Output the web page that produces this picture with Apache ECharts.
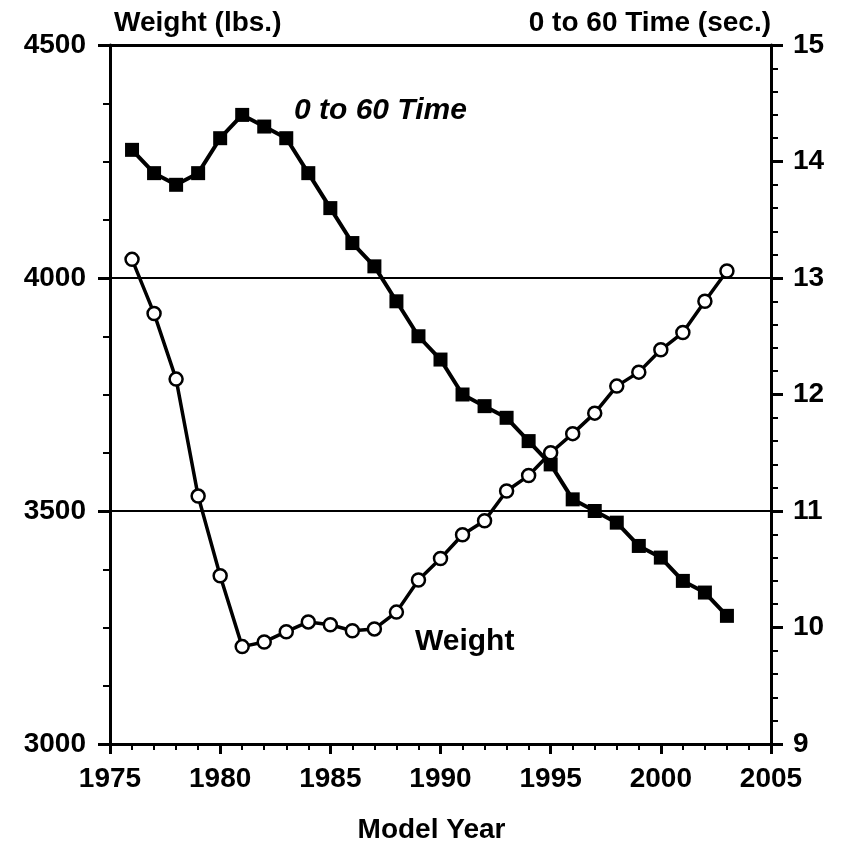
<!DOCTYPE html>
<html><head><meta charset="utf-8">
<script src="https://cdn.jsdelivr.net/npm/echarts@6/dist/echarts.min.js"></script>
<style>html,body{margin:0;padding:0;background:#fff}#c{width:843px;height:843px}</style>
</head><body><div id="c"></div>
<script>
const years = [1976,1977,1978,1979,1980,1981,1982,1983,1984,1985,1986,1987,1988,1989,1990,1991,1992,1993,1994,1995,1996,1997,1998,1999,2000,2001,2002,2003];
const weightLbs = [4040,3924,3783,3532,3361,3209,3219,3241,3262,3256,3243,3247,3283,3352,3398,3449,3479,3543,3576,3625,3666,3710,3768,3798,3846,3883,3950,4015];
const zeroTo60 = [14.1,13.9,13.8,13.9,14.2,14.4,14.3,14.2,13.9,13.6,13.3,13.1,12.8,12.5,12.3,12.0,11.9,11.8,11.6,11.4,11.1,11.0,10.9,10.7,10.6,10.4,10.3,10.1];
const xTicks = {min:1975, max:2005, step:5};
const leftTicks = {min:3000, max:4500, step:500};
const rightTicks = {min:9, max:15, step:1};

const FONT = 'Liberation Sans';
const lbl = {color:'#000', fontFamily:FONT, fontWeight:'bold', fontSize:28};
const nameStyle = {color:'#000', fontFamily:FONT, fontWeight:'bold', fontSize:28};
const plain = v => String(v);
const chart = echarts.init(document.getElementById('c'));
chart.setOption({
  backgroundColor:'#fff',
  animation:false,
  grid:{left:110, right:72, top:45, bottom:99, containLabel:false, outerBoundsMode:'none'},
  xAxis:[{
    type:'value', min:xTicks.min, max:xTicks.max, interval:xTicks.step,
    axisLine:{lineStyle:{color:'#000', width:3}},
    axisTick:{show:true, length:10, lineStyle:{color:'#000', width:3}},
    minorTick:{show:true, splitNumber:5, length:6, lineStyle:{color:'#000', width:2}},
    splitLine:{show:false},
    axisLabel:Object.assign({margin:21, formatter:plain}, lbl),
    name:'Model Year', nameLocation:'middle', nameGap:72,
    nameTextStyle:Object.assign({}, nameStyle, {padding:[0,18,0,0]})
  },{
    type:'value', position:'top', min:xTicks.min, max:xTicks.max,
    axisLine:{show:true, lineStyle:{color:'#000', width:3}},
    axisTick:{show:false}, axisLabel:{show:false}, splitLine:{show:false}
  }],
  yAxis:[{
    type:'value', position:'left', min:leftTicks.min, max:leftTicks.max, interval:leftTicks.step,
    axisLine:{show:true, lineStyle:{color:'#000', width:3}},
    axisTick:{show:true, length:12, lineStyle:{color:'#000', width:3}},
    minorTick:{show:true, splitNumber:4, length:7, lineStyle:{color:'#000', width:2}},
    splitLine:{show:true, lineStyle:{color:'#000', width:2}},
    axisLabel:Object.assign({margin:24, formatter:plain}, lbl),
    name:'Weight (lbs.)', nameLocation:'end', nameGap:8,
    nameTextStyle:Object.assign({}, nameStyle, {align:'left', padding:[0,0,0,4]})
  },{
    type:'value', position:'right', min:rightTicks.min, max:rightTicks.max, interval:rightTicks.step,
    axisLine:{show:true, lineStyle:{color:'#000', width:3}},
    axisTick:{show:true, length:12, lineStyle:{color:'#000', width:3}},
    minorTick:{show:true, splitNumber:5, length:7, lineStyle:{color:'#000', width:2}},
    splitLine:{show:false},
    axisLabel:Object.assign({margin:22, formatter:plain}, lbl),
    name:'0 to 60 Time (sec.)', nameLocation:'end', nameGap:8,
    nameTextStyle:Object.assign({}, nameStyle, {align:'right'})
  }],
  series:[{
    name:'0 to 60 Time', type:'line', xAxisIndex:0, yAxisIndex:1,
    data:years.map((y,i)=>[y, zeroTo60[i]]),
    symbol:'rect', symbolSize:14,
    lineStyle:{color:'#000', width:4},
    itemStyle:{color:'#000', borderColor:'#000', borderWidth:0},
    z:3
  },{
    name:'Weight', type:'line', xAxisIndex:0, yAxisIndex:0,
    data:years.map((y,i)=>[y, weightLbs[i]]),
    symbol:'circle', symbolSize:13,
    lineStyle:{color:'#000', width:3.5},
    itemStyle:{color:'#fff', borderColor:'#000', borderWidth:2.5},
    z:4
  }],
  graphic:[
    {type:'text', left:294, top:96, style:{text:'0 to 60 Time', fill:'#000', font:'italic bold 30px "Liberation Sans"'}},
    {type:'text', left:415, top:627, style:{text:'Weight', fill:'#000', font:'bold 30px "Liberation Sans"'}}
  ]
});
</script></body></html>
